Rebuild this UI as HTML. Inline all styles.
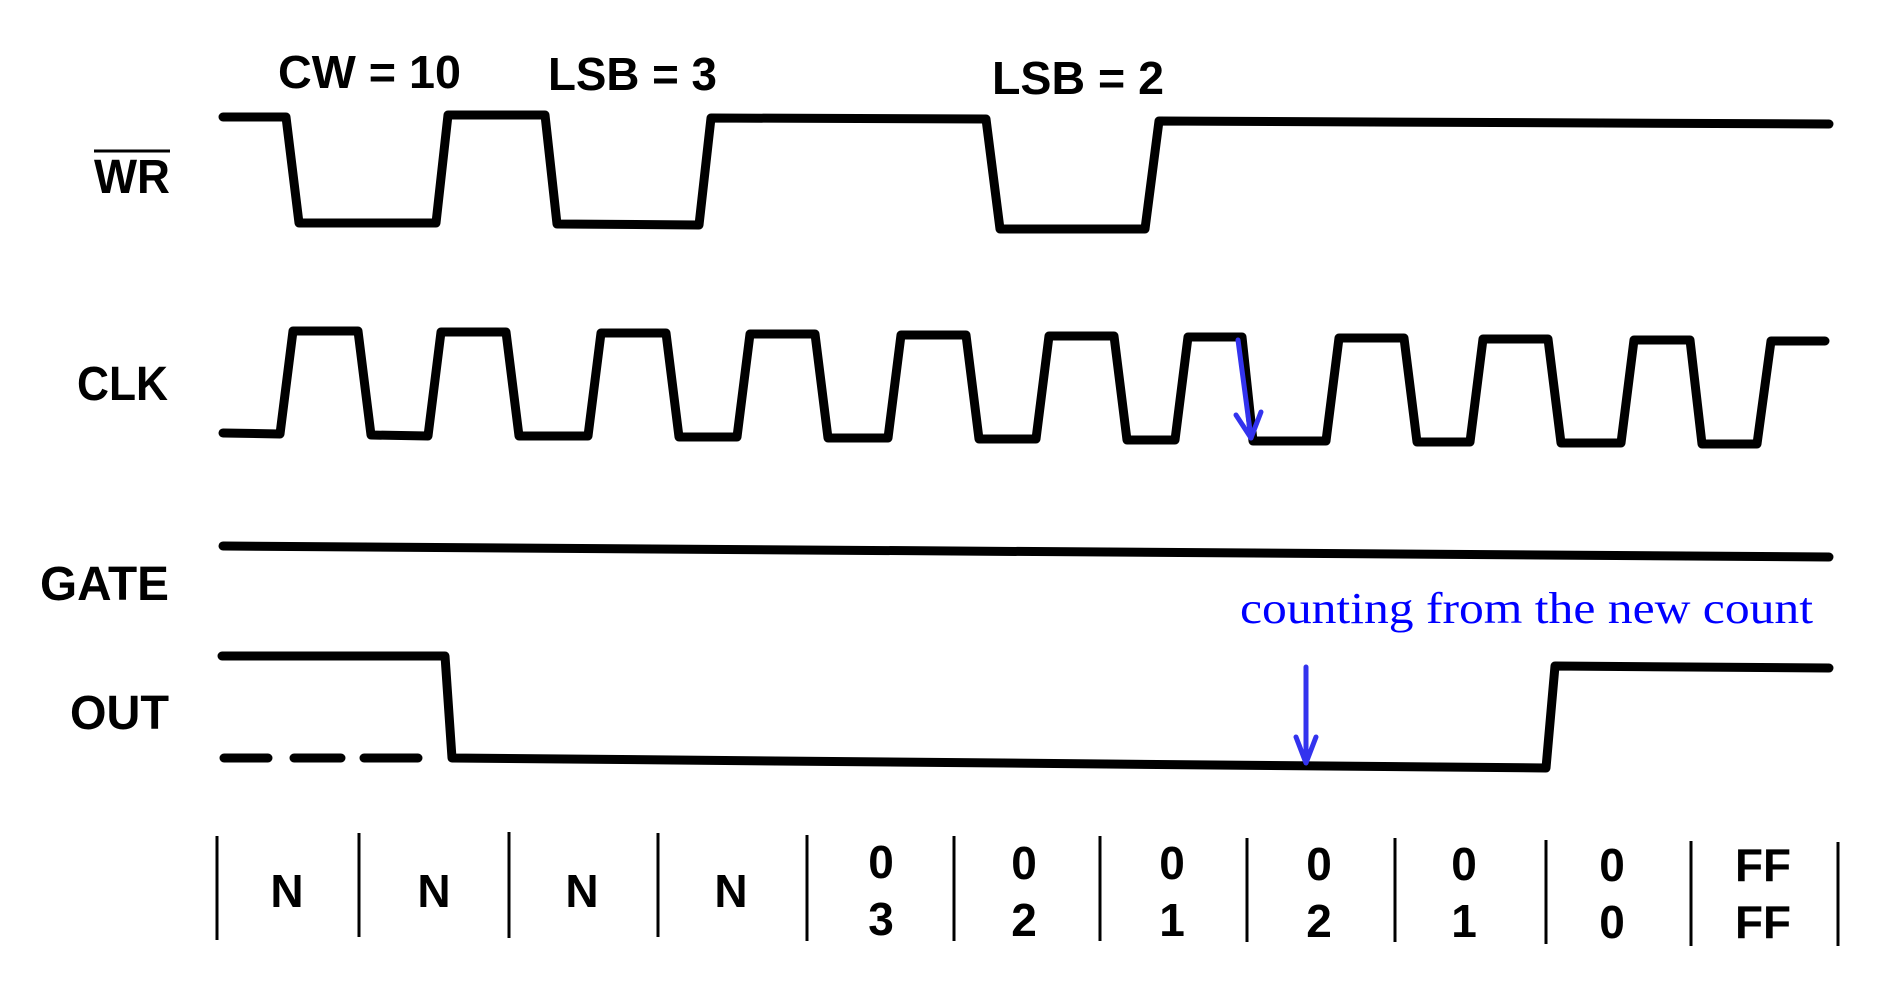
<!DOCTYPE html>
<html><head><meta charset="utf-8"><style>
html,body{margin:0;padding:0;background:#fff;}
svg{display:block;}
.l{font-family:"Liberation Sans",sans-serif;font-weight:bold;font-size:48px;fill:#000;}
.t{font-family:"Liberation Sans",sans-serif;font-weight:bold;font-size:46px;fill:#000;}
.c{font-family:"Liberation Sans",sans-serif;font-weight:bold;font-size:46px;fill:#000;text-anchor:middle;}
</style></head><body>
<svg width="1880" height="986" viewBox="0 0 1880 986" xmlns="http://www.w3.org/2000/svg">
<g fill="none" stroke="#000" stroke-width="9" stroke-linejoin="round" stroke-linecap="round">
<path d="M223 117 L286 117 L299 223 L436 223 L448 115 L545 115 L557 224 L699 225 L711 118 L986 119 L1000 229 L1145 229 L1159 121 L1829 124"/>
<path d="M223 433 L280 434 L293 331 L358 331 L371 435 L428 436 L441 332 L506 332 L519 436 L588 436 L601 333 L666 333 L679 437 L737 437 L750 334 L815 334 L828 438 L888 438 L901 335 L966 335 L979 439 L1036 439 L1049 336 L1114 336 L1127 440 L1175 440 L1188 337 L1242 337 L1253 441 L1326 441 L1339 338 L1404 338 L1417 442 L1470 442 L1483 339 L1548 339 L1561 443 L1621 443 L1634 340 L1690 340 L1702 444 L1757 444 L1771 341 L1825 341"/>
<path d="M223 546 L1829 557"/>
<path d="M222 656 L445 656 L452 758 L1546 768 L1555 666 L1829 668"/>
<path d="M224 758 L268 758 M294 758 L341 758 M364 758 L418 758"/>
</g>
<g stroke="#000" stroke-width="3">
<line x1="217" y1="836" x2="217" y2="940"/>
<line x1="359" y1="833" x2="359" y2="937"/>
<line x1="509" y1="832" x2="509" y2="938"/>
<line x1="658" y1="833" x2="658" y2="937"/>
<line x1="807" y1="835" x2="807" y2="941"/>
<line x1="954" y1="836" x2="954" y2="941"/>
<line x1="1100" y1="836" x2="1100" y2="941"/>
<line x1="1247" y1="838" x2="1247" y2="942"/>
<line x1="1395" y1="838" x2="1395" y2="942"/>
<line x1="1546" y1="840" x2="1546" y2="944"/>
<line x1="1691" y1="841" x2="1691" y2="946"/>
<line x1="1838" y1="842" x2="1838" y2="946"/>
<line x1="94" y1="151" x2="170" y2="151"/>
</g>
<text class="t" x="278" y="88" textLength="183" lengthAdjust="spacingAndGlyphs">CW = 10</text>
<text class="t" x="548" y="90" textLength="169" lengthAdjust="spacingAndGlyphs">LSB = 3</text>
<text class="t" x="992" y="94" textLength="172" lengthAdjust="spacingAndGlyphs">LSB = 2</text>
<text class="l" x="94" y="193" textLength="76" lengthAdjust="spacingAndGlyphs">WR</text>
<text class="l" x="77" y="400" textLength="91" lengthAdjust="spacingAndGlyphs">CLK</text>
<text class="l" x="40" y="600" textLength="129" lengthAdjust="spacingAndGlyphs">GATE</text>
<text class="l" x="70" y="729" textLength="99" lengthAdjust="spacingAndGlyphs">OUT</text>
<g class="c">
<text x="287" y="907">N</text><text x="434" y="907">N</text><text x="582" y="907">N</text><text x="731" y="907">N</text>
<text x="881" y="878">0</text><text x="881" y="935">3</text>
<text x="1024" y="879">0</text><text x="1024" y="936">2</text>
<text x="1172" y="879">0</text><text x="1172" y="936">1</text>
<text x="1319" y="880">0</text><text x="1319" y="937">2</text>
<text x="1464" y="880">0</text><text x="1464" y="937">1</text>
<text x="1612" y="881">0</text><text x="1612" y="938">0</text>
<text x="1763" y="881" textLength="56" lengthAdjust="spacingAndGlyphs">FF</text><text x="1763" y="938" textLength="56" lengthAdjust="spacingAndGlyphs">FF</text>
</g>
<text x="1240" y="623" textLength="573" lengthAdjust="spacingAndGlyphs" style="font-family:'Liberation Serif',serif;font-size:44px;fill:#0000ff;">counting from the new count</text>
<g fill="none" stroke="#3333ee" stroke-width="5" stroke-linecap="round" stroke-linejoin="round">
<line x1="1238" y1="340" x2="1251" y2="438"/>
<path d="M1236 415 L1251 438 L1261 412"/>
<line x1="1306" y1="667" x2="1306" y2="762"/>
<path d="M1296 737 L1306 763 L1316 737"/>
</g>
</svg>
</body></html>
